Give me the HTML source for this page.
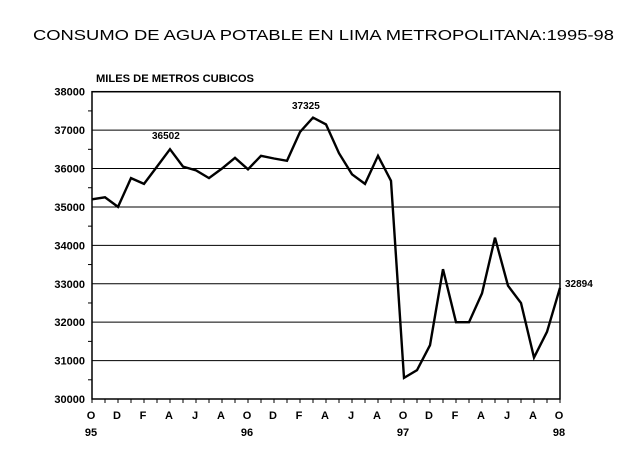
<!DOCTYPE html>
<html><head><meta charset="utf-8"><style>
html,body{margin:0;padding:0;background:#fff;}
svg{display:block;font-family:"Liberation Sans",Arial,sans-serif;font-weight:bold;}
</style></head><body>
<svg id="s" width="632" height="466" viewBox="0 0 632 466" xmlns="http://www.w3.org/2000/svg">
<text x="33" y="40" font-size="15" font-weight="normal" textLength="581" lengthAdjust="spacingAndGlyphs">CONSUMO DE AGUA POTABLE EN LIMA METROPOLITANA:1995-98</text>
<text x="96" y="82" font-size="11" textLength="158" lengthAdjust="spacingAndGlyphs">MILES DE METROS CUBICOS</text>
<g id="g"></g>
<text x="152" y="139" font-size="10">36502</text>
<text x="292" y="109" font-size="10">37325</text>
<text x="565" y="287" font-size="10">32894</text>
</svg>
<script>
var g=document.getElementById('g'),h='';
var L=92,R=560,T=91.7,B=399,k=(B-T)/8000;
function Y(v){return B-(v-30000)*k;}
for(var v=31000;v<=38000;v+=1000){h+='<line x1="'+L+'" x2="'+R+'" y1="'+Y(v)+'" y2="'+Y(v)+'" stroke="#000" stroke-width="1"/>';}
for(var v=30000;v<=38000;v+=1000){h+='<text x="85" y="'+(Y(v)+4)+'" font-size="11" text-anchor="end">'+v+'</text>';}
for(var v=30500;v<38000;v+=1000){h+='<line x1="'+(L-4)+'" x2="'+L+'" y1="'+Y(v)+'" y2="'+Y(v)+'" stroke="#000"/>';}
var dx=(R-L)/36;
for(var i=0;i<=36;i++){var x=L+i*dx;h+='<line x1="'+x+'" x2="'+x+'" y1="'+B+'" y2="'+(B+4)+'" stroke="#000"/>';}
var ml=['O','D','F','A','J','A'];
for(var i=0;i<=18;i++){h+='<text x="'+(L+i*2*dx-1)+'" y="419" font-size="11" text-anchor="middle">'+ml[i%6]+'</text>';}
var yrs=['95','96','97','98'];
for(var i=0;i<4;i++){h+='<text x="'+(L+i*12*dx-1)+'" y="436" font-size="11" text-anchor="middle">'+yrs[i]+'</text>';}
var d=[35200,35250,35000,35750,35600,36050,36502,36050,35950,35750,36000,36280,35980,36330,36260,36200,36950,37325,37150,36400,35850,35600,36330,35680,30550,30750,31400,33380,32000,32000,32750,34200,32950,32500,31080,31750,32894];
var p=d.map(function(v,i){return (L+i*dx).toFixed(1)+','+Y(v).toFixed(1);}).join(' ');
h+='<polyline points="'+p+'" fill="none" stroke="#000" stroke-width="2.4" stroke-linejoin="miter"/>';
h+='<rect x="'+L+'" y="'+T+'" width="'+(R-L)+'" height="'+(B-T)+'" fill="none" stroke="#000" stroke-width="1.5"/>';
g.innerHTML=h;
</script>
</body></html>
